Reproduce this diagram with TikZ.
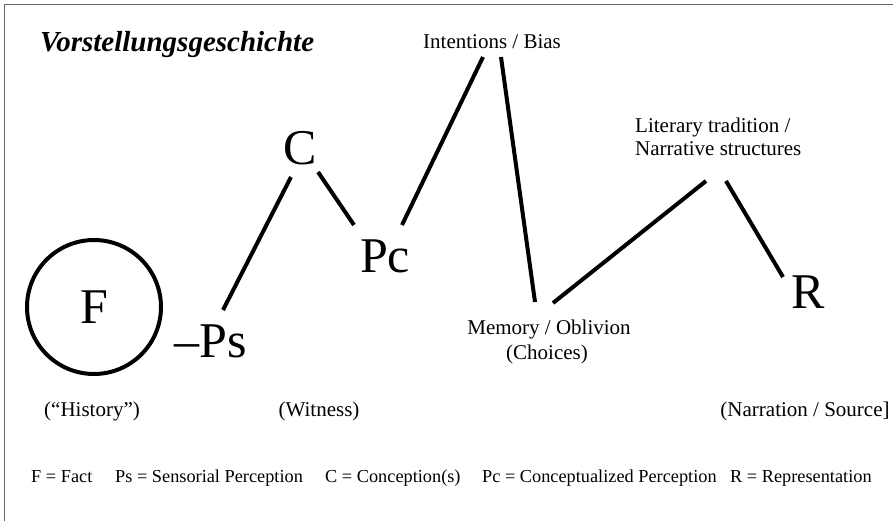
\documentclass[tikz,border=0pt]{standalone}
\usepackage{fontspec}
\setmainfont{Liberation Serif}
\usetikzlibrary{calc}
\begin{document}
\begin{tikzpicture}[x=1pt,y=-1pt,
  big/.style={font=\fontsize{50}{50}\selectfont, inner sep=0pt, anchor=base},
  lbl/.style={font=\fontsize{21}{25}\selectfont, inner sep=0pt, anchor=base},
  lblw/.style={font=\fontsize{21}{25}\selectfont, inner sep=0pt, anchor=base west},
  legend/.style={font=\fontsize{18.3}{22}\selectfont, inner sep=0pt, anchor=base west},
  link/.style={line width=4pt},
  frame/.style={draw=black!60, line width=1.5pt}]
\useasboundingbox (0,0) rectangle (893,521);
\draw[frame] (4.5,521) -- (4.5,4.5) -- (893,4.5);
% title
\node[font=\fontsize{29}{31}\selectfont\bfseries\itshape, inner sep=0pt, anchor=base west] (title) at (40,52) {Vorstellungsgeschichte};
% main nodes
\node[circle, draw, line width=4pt, minimum size=134pt, inner sep=0pt, font=\fontsize{50}{50}\selectfont] (F) at (94,307) {F};
\node[big] (Ps) at (211,357) {–Ps};
\node[big] (C) at (300,165) {C};
\node[big] (Pc) at (385,272) {Pc};
\node[lbl] (Int) at (492,49) {Intentions / Bias};
\node[lbl] (Mem) at (549,334) {Memory / Oblivion};
\node[lbl] (Cho) at (547,359) {(Choices)};
\node[lblw] (Lit1) at (635,133) {Literary tradition /};
\node[lblw] (Lit2) at (635,156) {Narrative structures};
\node[big] (R) at (808,308) {R};
% captions
\node[lbl] (Hist) at (92,416) {(“History”)};
\node[lbl] (Wit) at (319,416) {(Witness)};
\node[lbl] (Nar) at (805,416) {(Narration / Source]};
% connectors
\draw[link] ($(C.base)+(-9,12)$) -- ($(Ps.base)+(12,-47)$);
\draw[link] ($(C.base)+(18,7)$) -- ($(Pc.base)+(-31,-47)$);
\draw[link] ($(Pc.base)+(17,-47)$) -- ($(Int.base)+(-9,8)$);
\draw[link] ($(Int.base)+(9,8)$) -- ($(Mem.base)+(-14,-32)$);
\draw[link] ($(Mem.base)+(4,-31)$) -- ($(Lit2.base west)+(71,25)$);
\draw[link] ($(Lit2.base west)+(91,25)$) -- ($(R.base)+(-25,-31)$);
% legend
\node[legend] (l1) at (31,482) {F = Fact};
\node[legend] (l2) at (115,482) {Ps = Sensorial Perception};
\node[legend] (l3) at (325,482) {C = Conception(s)};
\node[legend] (l4) at (482,482) {Pc = Conceptualized Perception};
\node[legend] (l5) at (730,482) {R = Representation};
\end{tikzpicture}
\end{document}
